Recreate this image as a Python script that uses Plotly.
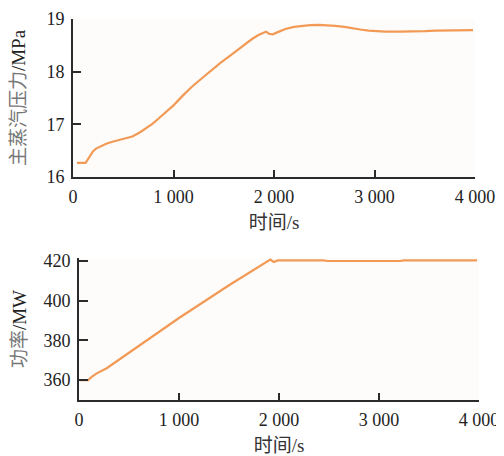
import plotly.graph_objects as go

# Top: main steam pressure (MPa) vs time (s)
t_p = [40, 125, 140, 160, 180, 200, 230, 262, 330, 393, 480, 590, 660, 721, 790, 852, 920, 1000, 1090, 1180, 1280,
       1377, 1470, 1574, 1660, 1738, 1781, 1850, 1920, 1950, 1987, 2050, 2113, 2200, 2279, 2360, 2445,
       2530, 2610, 2700, 2776, 2860, 2942, 3020, 3107, 3250, 3373, 3500, 3605, 3700, 3771, 3880, 3980]
pressure = [16.27, 16.27, 16.31, 16.38, 16.44, 16.49, 16.54, 16.57, 16.63, 16.67, 16.71, 16.77, 16.84, 16.92, 17.01, 17.11, 17.22,
            17.36, 17.54, 17.71, 17.87, 18.03, 18.17, 18.32, 18.45, 18.57, 18.62, 18.70, 18.76, 18.72, 18.71, 18.76,
            18.81, 18.85, 18.87, 18.885, 18.89, 18.885, 18.87, 18.85, 18.82, 18.80, 18.78, 18.765, 18.76, 18.76,
            18.76, 18.77, 18.78, 18.785, 18.79, 18.79, 18.79]

# Bottom: power (MW) vs time (s)
t_w = [10, 93, 127, 177, 277, 543, 1000, 1500, 1913, 1947, 1990, 2447, 2480, 3213, 3247, 3980]
power = [360, 360, 361.7, 363.4, 366, 375.2, 391.3, 407.8, 420.7, 419.5, 420.3, 420.3, 420, 420, 420.3, 420.3]

x_tickvals = [0, 1000, 2000, 3000, 4000]
x_ticktext = ["0", "1 000", "2 000", "3 000", "4 000"]
y1_ticks = [16, 17, 18, 19]
y2_ticks = [360, 380, 400, 420]

# page body has an 8 px default margin: figure is offset by 8 px
OFF = 8
W, H = 504 - OFF, 456 - OFF
LINE = "#F29A55"
AX = "#2b2b2b"
FONT = "Liberation Serif, Noto Sans CJK SC, serif"


def xd(a, b):
    return [(a - OFF) / W, (b - OFF) / W]


def yd(top, bottom):
    return [(H - (bottom - OFF)) / H, (H - (top - OFF)) / H]


fig = go.Figure()
fig.add_trace(go.Scatter(x=t_p, y=pressure, mode="lines", line=dict(color=LINE, width=2.2),
                         xaxis="x", yaxis="y", showlegend=False, hoverinfo="skip"))
fig.add_trace(go.Scatter(x=t_w, y=power, mode="lines", line=dict(color=LINE, width=2.2),
                         xaxis="x2", yaxis="y2", showlegend=False, hoverinfo="skip"))

common = dict(showline=True, linecolor=AX, linewidth=1.6, ticks="inside", tickcolor=AX, tickwidth=1.6,
              showgrid=False, zeroline=False, tickfont=dict(family=FONT, size=18, color="#222"),
              ticklabelstandoff=3)

fig.update_layout(
    width=W, height=H, margin=dict(l=0, r=0, t=0, b=0, autoexpand=False),
    paper_bgcolor="#ffffff", plot_bgcolor="#fdfcfa",
    font=dict(family=FONT, size=18, color="#222"),
    xaxis=dict(domain=xd(73, 475), range=[0, 4000], anchor="y", tickvals=x_tickvals, ticktext=x_ticktext,
               ticklen=7, title=dict(text="时间/s", font=dict(family=FONT, size=19, color="#333"), standoff=9), **common),
    yaxis=dict(domain=yd(19, 177), range=[16, 19], anchor="x", tickvals=y1_ticks, ticklen=8,
               title=dict(text='<span style="color:#777">主蒸汽压力</span>/MPa', font=dict(family=FONT, size=19, color="#222"), standoff=16),
               **common),
    xaxis2=dict(domain=xd(79, 479), range=[0, 4000], anchor="y2", tickvals=x_tickvals, ticktext=x_ticktext,
                ticklen=7, title=dict(text="时间/s", font=dict(family=FONT, size=19, color="#333"), standoff=14), **common),
    yaxis2=dict(domain=yd(258, 400), range=[350, 421.5], anchor="x2", tickvals=y2_ticks, ticklen=9,
                title=dict(text='<span style="color:#777">功率</span>/MW', font=dict(family=FONT, size=19, color="#222"), standoff=12),
                **common),
)

fig.write_html("out.html")
